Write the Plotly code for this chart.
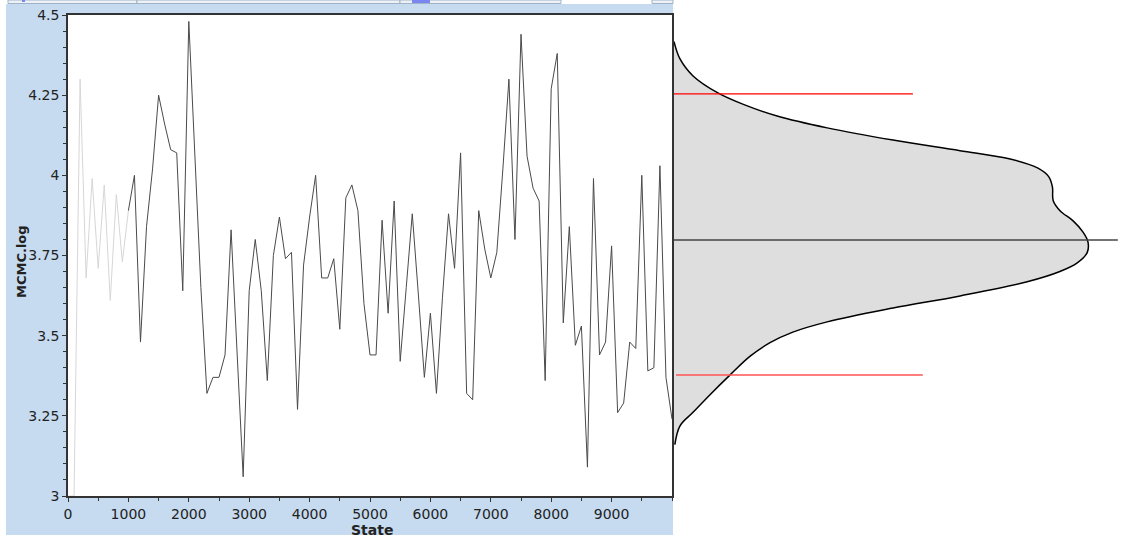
import plotly.graph_objects as go

W, H = 1121, 542

# ---------------- data ----------------
states = list(range(0, 10001, 100))
burnin_end = 1000
mcmc_log = [
    3.00, 3.00, 4.30, 3.68, 3.99, 3.71, 3.97, 3.61, 3.94, 3.73,   # 0-900
    3.89, 4.00, 3.48, 3.84, 4.02, 4.25, 4.16, 4.08, 4.07, 3.64,   # 1000-1900
    4.48, 4.05, 3.65, 3.32, 3.37, 3.37, 3.44, 3.83, 3.45, 3.06,   # 2000-2900
    3.64, 3.80, 3.64, 3.36, 3.75, 3.87, 3.74, 3.76, 3.27, 3.72,   # 3000-3900
    3.87, 4.00, 3.68, 3.68, 3.74, 3.52, 3.93, 3.97, 3.89, 3.60,   # 4000-4900
    3.44, 3.44, 3.86, 3.57, 3.92, 3.42, 3.65, 3.88, 3.63, 3.37,   # 5000-5900
    3.57, 3.32, 3.62, 3.88, 3.71, 4.07, 3.32, 3.30, 3.89, 3.77,   # 6000-6900
    3.68, 3.76, 4.02, 4.30, 3.80, 4.44, 4.06, 3.96, 3.92, 3.36,   # 7000-7900
    4.27, 4.38, 3.54, 3.84, 3.47, 3.53, 3.09, 3.99, 3.44, 3.48,   # 8000-8900
    3.78, 3.26, 3.29, 3.48, 3.46, 4.00, 3.39, 3.40, 4.03, 3.37,   # 9000-9900
    3.24,                                                         # 10000
]

# marginal density (value, relative density)
density_y = [4.417, 4.363, 4.310, 4.257, 4.222, 4.185, 4.148, 4.110, 4.077,
             4.051, 4.023, 3.996, 3.964, 3.921, 3.889, 3.858, 3.823, 3.792,
             3.759, 3.727, 3.700, 3.668, 3.624, 3.586, 3.543, 3.511, 3.478,
             3.436, 3.377, 3.316, 3.261, 3.219, 3.160]
density_w = [0.000, 0.0145, 0.046, 0.106, 0.166, 0.249, 0.370, 0.529, 0.691,
             0.812, 0.878, 0.905, 0.914, 0.916, 0.933, 0.964, 0.988, 1.000,
             0.998, 0.974, 0.932, 0.853, 0.691, 0.529, 0.370, 0.287, 0.232,
             0.184, 0.135, 0.087, 0.046, 0.0145, 0.002]

hpd_upper = 4.254
hpd_lower = 3.377
mean_val = 3.798
hpd_upper_span = [0.0, 0.577]
hpd_lower_span = [0.005, 0.601]
mean_span = [0.0, 1.072]

x_tick_vals = [0, 1000, 2000, 3000, 4000, 5000, 6000, 7000, 8000, 9000]
x_tick_text = ["0", "1000", "2000", "3000", "4000", "5000", "6000", "7000", "8000", "9000"]
y_tick_vals = [3.0, 3.25, 3.5, 3.75, 4.0, 4.25, 4.5]
y_tick_text = ["3", "3.25", "3.5", "3.75", "4", "4.25", "4.5"]

# ---------------- figure ----------------
FONT = "DejaVu Sans"
fig = go.Figure()

bi = states.index(burnin_end)
fig.add_trace(go.Scatter(x=states[:bi + 1], y=mcmc_log[:bi + 1], mode="lines",
                         line=dict(color="#d6d6d6", width=1), hoverinfo="skip",
                         showlegend=False))
fig.add_trace(go.Scatter(x=states[bi:], y=mcmc_log[bi:], mode="lines",
                         line=dict(color="#4a4a4a", width=1), showlegend=False))

fig.add_trace(go.Scatter(x=density_w, y=density_y, xaxis="x2", yaxis="y",
                         mode="lines", fill="tozerox", fillcolor="#dedede",
                         line=dict(color="black", width=1.5, shape="spline"),
                         showlegend=False))
fig.add_trace(go.Scatter(x=hpd_upper_span, y=[hpd_upper, hpd_upper], xaxis="x2",
                         mode="lines", line=dict(color="#ff0000", width=1.2),
                         showlegend=False))
fig.add_trace(go.Scatter(x=hpd_lower_span, y=[hpd_lower, hpd_lower], xaxis="x2",
                         mode="lines", line=dict(color="#ff5555", width=1.5),
                         showlegend=False))
fig.add_trace(go.Scatter(x=mean_span, y=[mean_val, mean_val], xaxis="x2",
                         mode="lines", line=dict(color="#444444", width=1.5),
                         showlegend=False))

px_l, px_r, px_t, px_b = 68, 672, 15, 496
dens_l = 674

shapes = [
    # blue panel
    dict(type="rect", xref="paper", yref="paper", x0=6 / W, x1=673 / W,
         y0=1 - 535 / H, y1=1 - 4 / H, fillcolor="rgb(198,219,239)",
         line=dict(width=0), layer="below"),
    # white plot area
    dict(type="rect", xref="paper", yref="paper", x0=px_l / W, x1=px_r / W,
         y0=1 - px_b / H, y1=1 - px_t / H, fillcolor="white",
         line=dict(width=0), layer="below"),
]
# tab strip at the top
for (a, b) in [(8, 137), (137, 400), (400, 561), (652, 673)]:
    shapes.append(dict(type="rect", xref="paper", yref="paper", x0=a / W, x1=b / W,
                       y0=1 - 3.5 / H, y1=1.0, fillcolor="#eef2f6",
                       line=dict(color="#9fb3c8", width=1), layer="below"))
shapes.append(dict(type="rect", xref="paper", yref="paper", x0=412 / W, x1=430 / W,
                   y0=1 - 3 / H, y1=1.0, fillcolor="#7b86f0", line=dict(width=0),
                   layer="below"))
shapes.append(dict(type="rect", xref="paper", yref="paper", x0=22 / W, x1=25 / W,
                   y0=1 - 2 / H, y1=1.0, fillcolor="#7b86f0", line=dict(width=0),
                   layer="below"))

fig.update_layout(
    template="none",
    width=W, height=H,
    margin=dict(l=0, r=0, t=0, b=0, pad=0, autoexpand=False),
    paper_bgcolor="white",
    plot_bgcolor="rgba(0,0,0,0)",
    showlegend=False,
    font=dict(family=FONT, size=14, color="#222222"),
    shapes=shapes,
    xaxis=dict(
        domain=[px_l / W, px_r / W], range=[0, 10000], automargin=False,
        tickmode="array", tickvals=x_tick_vals, ticktext=x_tick_text,
        ticks="outside", ticklen=4, tickwidth=1, tickcolor="#333333",
        minor=dict(dtick=500, tick0=0, ticks="outside", ticklen=3,
                   tickcolor="#333333", showgrid=False),
        showline=True, linecolor="#333333", linewidth=1.5, mirror=True,
        showgrid=False, zeroline=False, anchor="y",
        tickfont=dict(family=FONT, size=14, color="#222222"),
    ),
    yaxis=dict(
        domain=[1 - px_b / H, 1 - px_t / H], range=[3.0, 4.5], automargin=False,
        tickmode="array", tickvals=y_tick_vals, ticktext=y_tick_text,
        ticks="outside", ticklen=4, tickwidth=1, tickcolor="#333333",
        minor=dict(dtick=0.05, tick0=3.0, ticks="outside", ticklen=3,
                   tickcolor="#333333", showgrid=False),
        showline=True, linecolor="#333333", linewidth=1.5, mirror=True,
        showgrid=False, zeroline=False, anchor="x",
        tickfont=dict(family=FONT, size=14, color="#222222"),
    ),
    xaxis2=dict(
        domain=[dens_l / W, 1.0], range=[0, (W - dens_l) / 414.0], automargin=False,
        visible=False, anchor="y", showgrid=False, zeroline=False,
    ),
    annotations=[
        dict(text="<b>MCMC.log</b>", xref="paper", yref="paper",
             x=21 / W, y=1 - 262 / H, textangle=-90, showarrow=False,
             font=dict(family=FONT, size=13, color="#222222"),
             xanchor="center", yanchor="middle"),
        dict(text="<b>State</b>", xref="paper", yref="paper",
             x=372 / W, y=1 - 530 / H, showarrow=False,
             font=dict(family=FONT, size=14, color="#222222"),
             xanchor="center", yanchor="middle"),
    ],
)

fig.write_html("out.html")
